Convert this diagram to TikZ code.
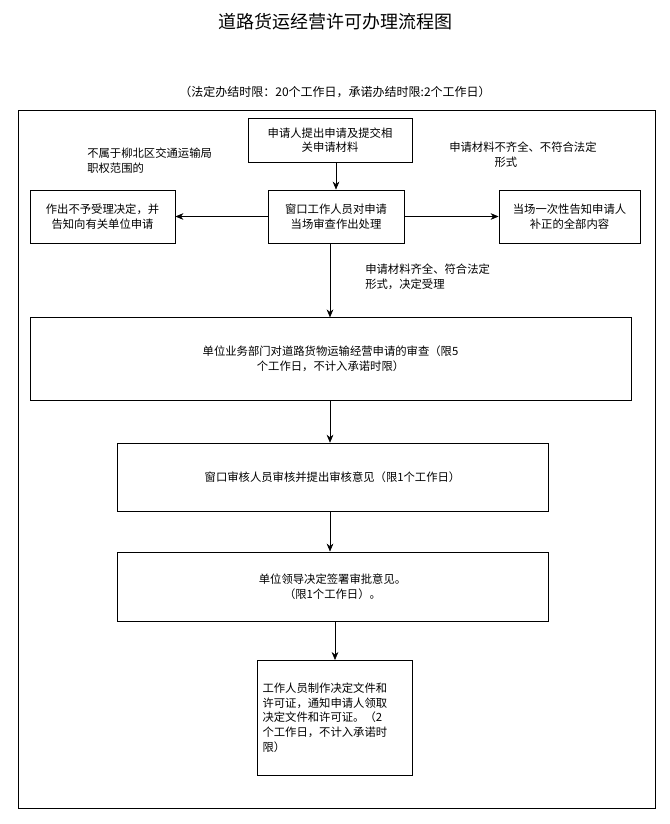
\documentclass[tikz,border=0pt]{standalone}
\usepackage{fontspec}
\setmainfont{Noto Sans CJK SC}
\usepackage{tikz}
\usetikzlibrary{arrows.meta}

\begin{document}
\begin{tikzpicture}[x=0.75pt, y=-0.75pt,
    box/.style={draw, thin, inner sep=2pt, font=\fontsize{8.5}{11}\selectfont, align=center},
    note/.style={inner sep=0pt, font=\fontsize{8.5}{11}\selectfont, align=left, anchor=north west},
    flow/.style={-{Stealth[length=6pt, width=5pt]}, thin}]

    % Page size
    \def\pw{670}
    \def\ph{824}
    \useasboundingbox (0,0) rectangle (\pw,\ph);

    % Title
    \node (title) at (335,22) {\fontsize{13.5}{16}\selectfont 道路货运经营许可办理流程图};
    \node (limit) at (335,92) {\fontsize{9}{11}\selectfont （法定办结时限：20个工作日，承诺办结时限:2个工作日）};
    % Frame
    \draw[thin] (18,110) rectangle (655,808);

    % Boxes
    \node[box, minimum width=123pt, minimum height=33pt] (apply) at (330,140) {申请人提出申请及提交相\\关申请材料};
    \node[box, minimum width=102pt, minimum height=40pt] (check) at (336,216.5) {窗口工作人员对申请\\当场审查作出处理};
    \node[box, minimum width=109pt, minimum height=40pt] (reject) at (102.5,216.5) {作出不予受理决定，并\\告知向有关单位申请};
    \node[box, minimum width=106pt, minimum height=40pt] (inform) at (569.5,216.5) {当场一次性告知申请人\\补正的全部内容};
    \node[box, minimum width=451pt, minimum height=62pt] (review) at (330.5,359) {单位业务部门对道路货物运输经营申请的审查（限5\\个工作日，不计入承诺时限）};
    \node[box, minimum width=323pt, minimum height=51pt] (audit) at (332.5,477) {窗口审核人员审核并提出审核意见（限1个工作日）};
    \node[box, minimum width=323pt, minimum height=52pt] (lead) at (332.5,586.5) {单位领导决定签署审批意见。\\（限1个工作日）。};
    \node[box, minimum width=116pt, minimum height=86pt, align=left, text width=108pt, anchor=north] (issue) at (334.5,660)
        {工作人员制作决定文件和\\许可证，通知申请人领取\\决定文件和许可证。（2\\个工作日，不计入承诺时\\限）};

    % Notes
    \node[note] (outside) at (87,148) {不属于柳北区交通运输局\\职权范围的};
    \node[note] (incomplete) at (449,142) {申请材料不齐全、不符合法定\\\hspace*{4em}形式};
    \node[note] (complete) at (365,264) {申请材料齐全、符合法定\\形式，决定受理};

    % Arrows
    \draw[flow] (apply.south -| check) -- (check);
    \draw[flow] (check) -- (reject);
    \draw[flow] (check) -- (inform);
    \draw[flow] (check.south -| 330,0) -- (review.north -| 330,0);
    \draw[flow] (review.south -| 330,0) -- (audit.north -| 330,0);
    \draw[flow] (audit.south -| 330,0) -- (lead.north -| 330,0);
    \draw[flow] (lead.south -| 335,0) -- (issue.north -| 335,0);

\end{tikzpicture}
\end{document}
